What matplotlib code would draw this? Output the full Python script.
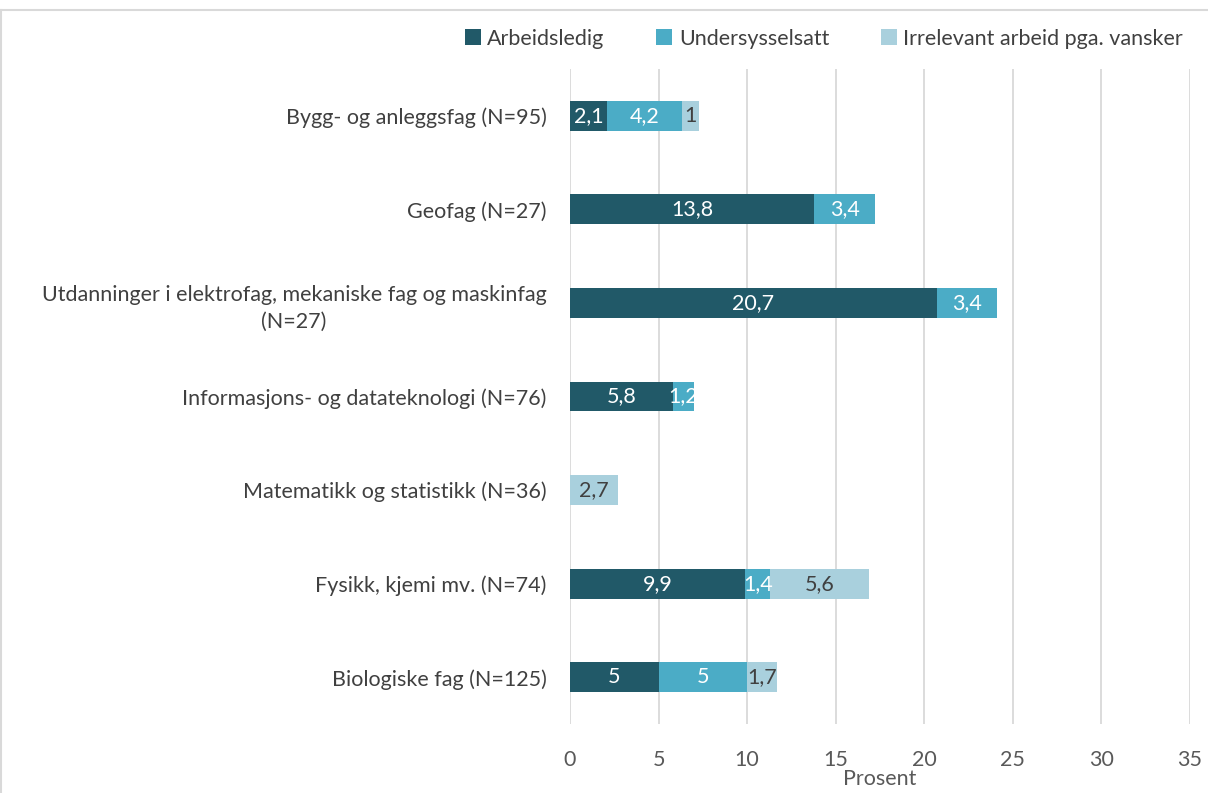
import numpy as np
import matplotlib.pyplot as plt
from matplotlib.lines import Line2D
from matplotlib.patches import Patch

plt.rcParams['font.family'] = ['Lato', 'DejaVu Sans']

categories = ["Bygg- og anleggsfag (N=95)",
              "Geofag (N=27)",
              "Utdanninger i elektrofag, mekaniske fag og maskinfag\n(N=27)",
              "Informasjons- og datateknologi (N=76)",
              "Matematikk og statistikk (N=36)",
              "Fysikk, kjemi mv. (N=74)",
              "Biologiske fag (N=125)"]
arbeidsledig = [2.1, 13.8, 20.7, 5.8, 0, 9.9, 5]
undersysselsatt = [4.2, 3.4, 3.4, 1.2, 0, 1.4, 5]
irrelevant = [1, 0, 0, 0, 2.7, 5.6, 1.7]
series_names = ["Arbeidsledig", "Undersysselsatt", "Irrelevant arbeid pga. vansker"]
colors = ["#215968", "#4BACC6", "#A9D0DD"]
label_colors = ["white", "white", "#404040"]

fs = 15.5

fig = plt.figure(figsize=(12.08, 7.93), dpi=100)
ax = fig.add_axes([570 / 1208, 1 - 724 / 793, 620 / 1208, 655 / 793])

y = np.arange(len(categories))
left = np.zeros(len(categories))
for vals, name, col, lc in zip([arbeidsledig, undersysselsatt, irrelevant], series_names, colors, label_colors):
    vals = np.array(vals, dtype=float)
    ax.barh(y, vals, left=left, height=0.32, color=col, label=name, zorder=3)
    for yi, (v, l) in enumerate(zip(vals, left)):
        if v > 0:
            txt = ("%g" % v).replace(".", ",")
            ax.text(l + v / 2, yi, txt, ha='center', va='center', color=lc, fontsize=fs, zorder=4)
    left += vals

ax.set_ylim(len(categories) - 0.5, -0.5)
ax.set_xlim(0, 35)
ax.set_xticks(np.arange(0, 36, 5))
ax.set_yticks(y)
ax.set_yticklabels(categories, fontsize=fs, color='#404040', multialignment='center', linespacing=1.45)
ax.tick_params(axis='both', length=0, colors='#595959', labelsize=fs)
ax.tick_params(axis='y', pad=17, colors='#404040')
ax.tick_params(axis='x', pad=19)
ax.xaxis.grid(True, color='#D9D9D9', linewidth=1.3, zorder=0)
for s in ax.spines.values():
    s.set_visible(False)
ax.set_xlabel("Prosent", fontsize=fs, color='#595959', labelpad=-1)

handles = [Patch(facecolor=c, edgecolor='none') for c in colors]
fig.legend(handles, series_names, loc='upper right', bbox_to_anchor=(1194 / 1208, 1 - 18 / 793), ncol=3,
           frameon=False, fontsize=fs, handlelength=0.75, handleheight=0.75, handletextpad=0.3,
           columnspacing=2.4, labelcolor='#404040', borderpad=0)

# chart border
fig.add_artist(Line2D([0, 1], [1 - 10 / 793, 1 - 10 / 793], color='#D9D9D9', lw=1.5, transform=fig.transFigure))
fig.add_artist(Line2D([1 / 1208, 1 / 1208], [0, 1 - 10 / 793], color='#D9D9D9', lw=1.5, transform=fig.transFigure))

fig.savefig("out.png", dpi=100)
